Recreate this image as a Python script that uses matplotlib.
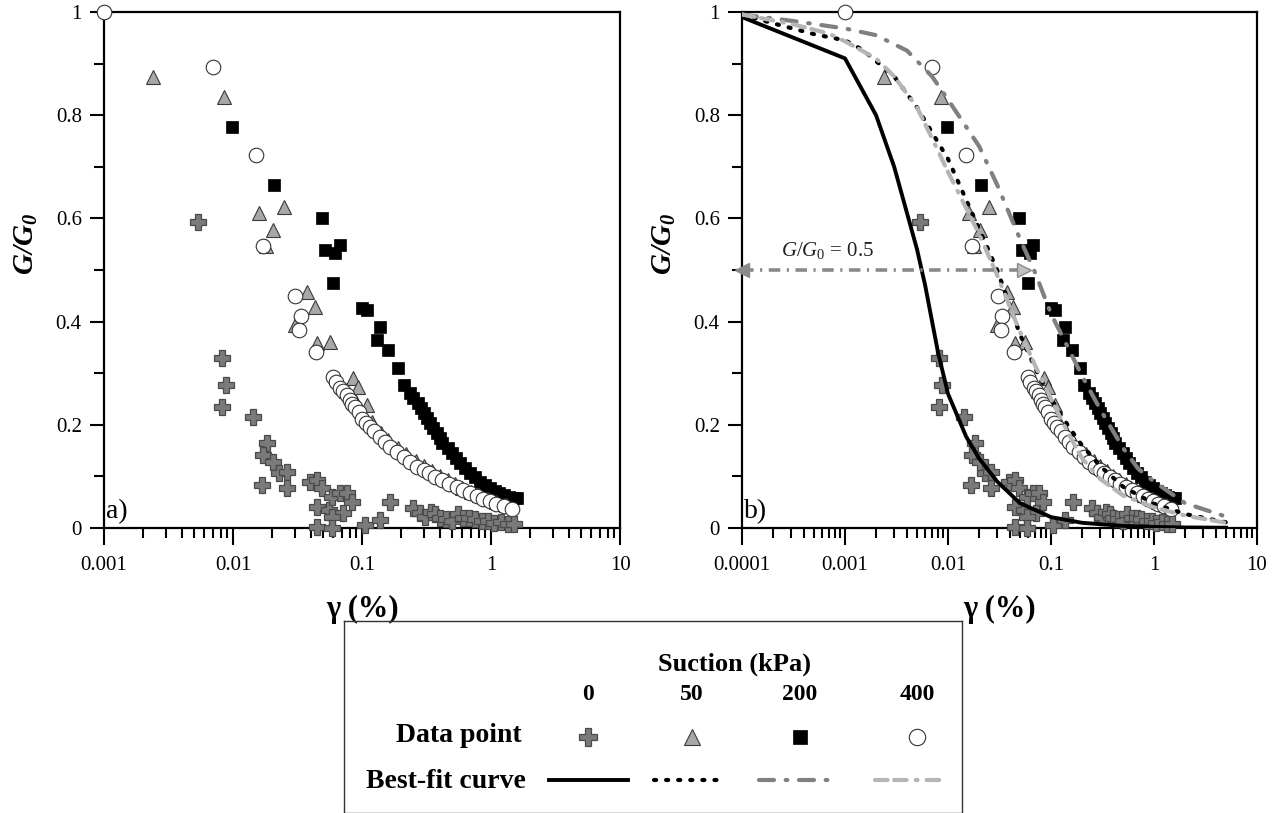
"""G/G0 degradation curves for four suction levels: raw data (a) and best-fit (b)."""
import matplotlib
matplotlib.use("Agg")
import matplotlib.pyplot as plt
from matplotlib.ticker import MultipleLocator, NullFormatter

plt.rcParams["font.family"] = ["Liberation Serif", "DejaVu Serif"]
plt.rcParams["mathtext.fontset"] = "custom"
plt.rcParams["mathtext.rm"] = "Liberation Serif"
plt.rcParams["mathtext.it"] = "Liberation Serif:italic"
plt.rcParams["mathtext.bf"] = "Liberation Serif:bold"
plt.rcParams["mathtext.bfit"] = "Liberation Serif:bold:italic"

# ---------------------------------------------------------------------------
# data points  (strain in %, G/G0)
# ---------------------------------------------------------------------------
s0_x = [0.00535, 0.0082, 0.0088, 0.0082, 0.0143, 0.0183, 0.0171, 0.0204, 0.0227,
        0.026, 0.0168, 0.026, 0.0395, 0.0445, 0.049, 0.0445, 0.055, 0.059, 0.067,
        0.076, 0.083, 0.071, 0.058, 0.0445, 0.058, 0.105, 0.164, 0.137, 0.25, 0.28,
        0.31, 0.34, 0.37, 0.40, 0.45, 0.50, 0.55, 0.61, 0.68, 0.75, 0.85, 0.95,
        1.05, 1.2, 1.35, 1.5]
s0_y = [0.593, 0.329, 0.277, 0.235, 0.215, 0.165, 0.141, 0.128, 0.107,
        0.109, 0.083, 0.078, 0.089, 0.093, 0.078, 0.041, 0.035, 0.060, 0.068,
        0.068, 0.050, 0.029, 0.021, 0.002, 0.0, 0.006, 0.050, 0.016, 0.039, 0.029,
        0.021, 0.030, 0.027, 0.019, 0.017, 0.013, 0.027, 0.019, 0.020, 0.017, 0.013, 0.013,
        0.010, 0.012, 0.008, 0.008]

s50_x = [0.0024, 0.0085, 0.0159, 0.0249, 0.0204, 0.0180, 0.0375, 0.043, 0.0302,
         0.045, 0.056, 0.085, 0.093, 0.11, 0.075, 0.09, 0.12, 0.14, 0.16, 0.19,
         0.22, 0.26, 0.30, 0.35, 0.40, 0.46, 0.53, 0.60, 0.70, 0.80, 0.95, 1.1, 1.3]
s50_y = [0.874, 0.835, 0.610, 0.622, 0.578, 0.547, 0.457, 0.428, 0.393,
         0.358, 0.360, 0.290, 0.273, 0.238, 0.265, 0.245, 0.205, 0.185, 0.170, 0.155,
         0.143, 0.130, 0.120, 0.110, 0.100, 0.093, 0.085, 0.078, 0.070, 0.063, 0.056, 0.050, 0.044]

s200_x = [0.0098, 0.0208, 0.049, 0.052, 0.062, 0.067, 0.060, 0.10, 0.109, 0.137,
          0.13, 0.159, 0.19, 0.21, 0.235, 0.25, 0.27, 0.285, 0.30, 0.318, 0.335,
          0.355, 0.38, 0.40, 0.42, 0.46, 0.50, 0.535, 0.57, 0.63, 0.69, 0.75, 0.82,
          0.90, 0.98, 1.07, 1.16, 1.27, 1.38, 1.5, 1.6]
s200_y = [0.777, 0.665, 0.600, 0.539, 0.533, 0.548, 0.475, 0.426, 0.422, 0.390,
          0.364, 0.345, 0.310, 0.277, 0.262, 0.252, 0.242, 0.232, 0.223, 0.213, 0.203,
          0.194, 0.184, 0.175, 0.165, 0.155, 0.145, 0.136, 0.126, 0.117, 0.107, 0.098, 0.089,
          0.083, 0.077, 0.072, 0.068, 0.064, 0.060, 0.059, 0.058]

s400_x = [0.001, 0.0070, 0.0151, 0.0171, 0.0303, 0.0336, 0.0327, 0.0440, 0.0596,
          0.063, 0.068, 0.071, 0.076, 0.080, 0.084, 0.088, 0.094, 0.100, 0.107, 0.115,
          0.124, 0.137, 0.150, 0.165, 0.185, 0.21, 0.235, 0.267, 0.30, 0.33, 0.37,
          0.42, 0.47, 0.54, 0.61, 0.69, 0.78, 0.87, 0.98, 1.10, 1.25, 1.45]
s400_y = [1.0, 0.893, 0.723, 0.547, 0.450, 0.411, 0.384, 0.341, 0.293,
          0.282, 0.272, 0.265, 0.257, 0.248, 0.241, 0.235, 0.224, 0.212, 0.203, 0.196,
          0.187, 0.176, 0.167, 0.157, 0.147, 0.138, 0.128, 0.118, 0.112, 0.106, 0.099,
          0.093, 0.086, 0.079, 0.073, 0.067, 0.062, 0.057, 0.052, 0.047, 0.043, 0.037]

# best-fit curves (panel b)
fit0_x = [0.0001, 0.001, 0.002, 0.003, 0.004, 0.005, 0.006, 0.008, 0.01, 0.015,
          0.02, 0.03, 0.05, 0.1, 0.2, 0.5, 1, 2, 5]
fit0_y = [0.99, 0.91, 0.80, 0.70, 0.61, 0.54, 0.47, 0.34, 0.26, 0.177,
          0.135, 0.09, 0.048, 0.021, 0.01, 0.004, 0.002, 0.001, 0.0005]

fit50_x = [0.0001, 0.0002, 0.0005, 0.001, 0.0015, 0.003, 0.005, 0.01, 0.02, 0.03,
           0.05, 0.07, 0.1, 0.15, 0.2, 0.3, 0.5, 1, 2, 5]
fit50_y = [0.995, 0.978, 0.957, 0.945, 0.926, 0.875, 0.815, 0.715, 0.58, 0.50,
           0.375, 0.31, 0.25, 0.195, 0.16, 0.12, 0.08, 0.047, 0.027, 0.011]

fit200_x = [0.0001, 0.0003, 0.001, 0.002, 0.004, 0.007, 0.01, 0.02, 0.03, 0.05,
            0.07, 0.1, 0.15, 0.2, 0.3, 0.5, 0.7, 1, 2, 5]
fit200_y = [0.995, 0.983, 0.968, 0.955, 0.925, 0.875, 0.83, 0.74, 0.665, 0.56,
            0.495, 0.415, 0.345, 0.295, 0.23, 0.155, 0.115, 0.09, 0.048, 0.022]

fit400_x = [0.0001, 0.0003, 0.0007, 0.001, 0.002, 0.003, 0.005, 0.007, 0.01, 0.02,
            0.03, 0.05, 0.07, 0.1, 0.15, 0.2, 0.3, 0.5, 1, 2, 5]
fit400_y = [0.995, 0.977, 0.958, 0.943, 0.91, 0.875, 0.815, 0.755, 0.69, 0.57,
            0.49, 0.38, 0.315, 0.25, 0.18, 0.135, 0.095, 0.063, 0.04, 0.024, 0.01]

suction_labels = ["0", "50", "200", "400"]
ref_level = 0.5
ref_arrow_x = [0.0001, 0.065]

y_ticks = [0, 0.2, 0.4, 0.6, 0.8, 1.0]
y_ticklabels = ["0", "0.2", "0.4", "0.6", "0.8", "1"]
xa_ticks = [0.001, 0.01, 0.1, 1, 10]
xa_ticklabels = ["0.001", "0.01", "0.1", "1", "10"]
xb_ticks = [0.0001, 0.001, 0.01, 0.1, 1, 10]
xb_ticklabels = ["0.0001", "0.001", "0.01", "0.1", "1", "10"]

# ---------------------------------------------------------------------------
# styles
# ---------------------------------------------------------------------------
MARKERS = [
    dict(marker="P", ms=11, mfc="#7a7a7a", mec="#4a4a4a", mew=0.9),
    dict(marker="^", ms=10, mfc="#a8a8a8", mec="#3a3a3a", mew=0.8),
    dict(marker="s", ms=8.5, mfc="black", mec="black", mew=0.5),
    dict(marker="o", ms=10.5, mfc="white", mec="#333333", mew=0.8),
]
LINES = [
    dict(color="black", lw=2.8, ls="-"),
    dict(color="black", lw=3.0, ls=(0, (0.5, 2.4)), dash_capstyle="round"),
    dict(color="#808080", lw=3.0, ls=(0, (3.6, 2.8, 0.4, 2.8)), dash_capstyle="round"),
    dict(color="#b5b5b5", lw=3.0, ls=(0, (3.0, 1.6, 3.0, 2.2, 0.4, 2.2)), dash_capstyle="round"),
]
data_sets = [(s0_x, s0_y), (s50_x, s50_y), (s200_x, s200_y), (s400_x, s400_y)]
fit_sets = [(fit0_x, fit0_y), (fit50_x, fit50_y), (fit200_x, fit200_y), (fit400_x, fit400_y)]
draw_order = [2, 1, 3, 0]   # squares, triangles, circles, crosses


def style_axes(ax, xlim, xticks, xticklabels, tag):
    ax.set_xscale("log")
    ax.set_xlim(*xlim)
    ax.set_ylim(0, 1)
    ax.set_xticks(xticks)
    ax.set_xticklabels(xticklabels)
    ax.xaxis.set_minor_formatter(NullFormatter())
    ax.set_yticks(y_ticks)
    ax.set_yticklabels(y_ticklabels)
    ax.yaxis.set_minor_locator(MultipleLocator(0.1))
    for sp in ax.spines.values():
        sp.set_linewidth(1.6)
    ax.tick_params(axis="both", which="both", direction="out", top=False, right=False,
                   width=1.5, labelsize=15)
    ax.tick_params(axis="x", which="major", length=12, pad=8)
    ax.tick_params(axis="x", which="minor", length=7)
    ax.tick_params(axis="y", which="major", length=10, pad=6)
    ax.tick_params(axis="y", which="minor", length=7)
    ax.set_xlabel("γ (%)", fontsize=22, fontweight="bold")
    ax.xaxis.set_label_coords(0.5, -0.13)
    ax.set_ylabel(r"$\mathbfit{G/G_0}$", fontsize=21)
    ax.yaxis.set_label_coords(-0.125, 0.55)
    ax.text(0.004, 0.008, tag, transform=ax.transAxes, fontsize=20, ha="left", va="bottom")


def draw_points(ax):
    for i in draw_order:
        x, y = data_sets[i]
        ax.plot(x, y, ls="none", clip_on=False, zorder=3 + draw_order.index(i) * 0.1,
                **MARKERS[i])


fig = plt.figure(figsize=(12.78, 8.13), dpi=100)
ax_a = fig.add_axes([0.0814, 0.3506, 0.4038, 0.6347])
ax_b = fig.add_axes([0.5806, 0.3506, 0.4030, 0.6347])

# panel a: data only
draw_points(ax_a)
style_axes(ax_a, (1e-3, 10), xa_ticks, xa_ticklabels, "a)")

# panel b: data + best-fit curves + G/G0 = 0.5 reference
draw_points(ax_b)
for (x, y), st in zip(fit_sets, LINES):
    ax_b.plot(x, y, zorder=5, **st)
ax_b.plot(ref_arrow_x, [ref_level, ref_level], color="#8a8a8a", lw=2.6,
          ls=(0, (3.2, 1.8, 0.6, 1.8)), zorder=6)
ax_b.plot(ref_arrow_x[0], ref_level, marker="<", ms=10, mfc="#8a8a8a", mec="#8a8a8a",
          clip_on=False, zorder=7)
ax_b.plot(ref_arrow_x[1] * 0.85, ref_level, marker=">", ms=10, mfc="#c0c0c0", mec="#8a8a8a",
          zorder=7)
ax_b.text(6.8e-4, 0.537, r"$G/G_{\mathit{0}}$" + " = 0.5", fontsize=15, ha="center",
          va="center", color="#222222")
style_axes(ax_b, (1e-4, 10), xb_ticks, xb_ticklabels, "b)")

# legend box (drawn in its own axes, figure-pixel coordinates)
lg = fig.add_axes([344 / 1278, 0.0, 618 / 1278, 192 / 813])
lg.patch.set_alpha(0)
lg.set_xlim(344, 962)
lg.set_ylim(813, 621)
lg.set_xticks([])
lg.set_yticks([])
for sp in lg.spines.values():
    sp.set_linewidth(1.0)
    sp.set_color("#333333")
lg.text(735, 664, "Suction (kPa)", fontsize=19, fontweight="bold", ha="center", va="center")
col_x = [588, 692, 800, 917]
line_span = [(549, 628), (654, 725), (759, 832), (875, 941)]
for cx, lab in zip(col_x, suction_labels):
    lg.text(cx, 695, lab, fontsize=17, fontweight="bold", ha="center", va="center")
lg.text(522, 736, "Data point", fontsize=20, fontweight="bold", ha="right", va="center")
lg.text(526, 782, "Best-fit curve", fontsize=20, fontweight="bold", ha="right", va="center")
for cx, mk in zip(col_x, MARKERS):
    st = dict(mk)
    st["ms"] = st["ms"] * 1.12
    lg.plot([cx], [737], ls="none", **st)
for (x0, x1), st in zip(line_span, LINES):
    lg.plot([x0, x1], [780, 780], **st)

fig.savefig("out.png", dpi=100)
